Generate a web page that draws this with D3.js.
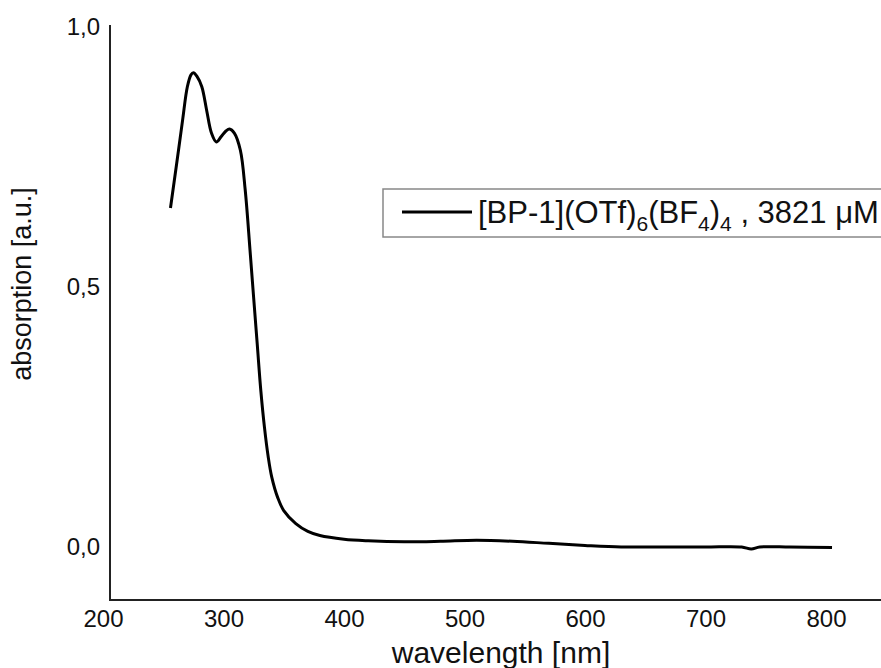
<!DOCTYPE html>
<html>
<head>
<meta charset="utf-8">
<script src="https://cdn.jsdelivr.net/npm/d3@7"></script>
<style>
  body { margin: 0; background: #fff; }
  text { font-family: "Liberation Sans", Arial, sans-serif; fill: #111; }
</style>
</head>
<body>
<script>
let width = 881
let height = 668

// spectrum
const wavelength = [256, 261, 266, 270, 273, 275, 278, 282, 286, 290, 294, 298, 302, 305, 309, 314, 318, 322, 325, 328, 331, 334, 337, 340, 345, 350, 360, 370, 380, 400, 420, 450, 480, 510, 540, 570, 600, 630, 660, 700, 730, 738, 745, 770, 805]
const absorption = [0.652, 0.735, 0.82, 0.885, 0.908, 0.912, 0.905, 0.885, 0.84, 0.796, 0.779, 0.789, 0.800, 0.804, 0.796, 0.763, 0.687, 0.571, 0.48, 0.39, 0.30, 0.23, 0.175, 0.135, 0.095, 0.07, 0.045, 0.03, 0.022, 0.015, 0.012, 0.01, 0.011, 0.013, 0.011, 0.007, 0.003, 0.0, 0.0, 0.0, 0.0, -0.004, 0.0, 0.0, -0.001]
const xTicks = [200, 300, 400, 500, 600, 700, 800]
const yTicks = [0, 0.5, 1.0]

const svg = d3.select("body")
    .append('svg')
    .attr('width', width)
    .attr('height', height)

const x = d3.scaleLinear().domain([200, 800]).range([103, 826])
const y = d3.scaleLinear().domain([0, 1]).range([547, 27])

const fmt = d => d3.format(".1f")(d).replace(".", ",")

// axes, no tick marks
const xAxis = svg.append('g')
    .attr('transform', 'translate(0,600)')
    .call(d3.axisBottom(x).tickValues(xTicks).tickSize(0).tickPadding(10).tickFormat(d3.format("d")))
xAxis.select('.domain').remove()
xAxis.selectAll('text').style('font-size', '24px').attr('fill', '#111')

const yAxis = svg.append('g')
    .attr('transform', 'translate(110,0)')
    .call(d3.axisLeft(y).tickValues(yTicks).tickSize(0).tickPadding(10).tickFormat(fmt))
yAxis.select('.domain').remove()
yAxis.selectAll('text').style('font-size', '24px').attr('fill', '#111')

svg.append('line')
    .attr('x1', 110).attr('x2', 110).attr('y1', 25).attr('y2', 601)
    .attr('stroke', '#222').attr('stroke-width', 2)
svg.append('line')
    .attr('x1', 109).attr('x2', width).attr('y1', 600).attr('y2', 600)
    .attr('stroke', '#222').attr('stroke-width', 2)

const data = wavelength.map((w, i) => ({w: w, a: absorption[i]}))

const line = d3.line()
    .x(d => x(d.w))
    .y(d => y(d.a))
    .curve(d3.curveCatmullRom.alpha(0.5))

svg.append('path')
    .datum(data)
    .attr('fill', 'none')
    .attr('stroke', '#000')
    .attr('stroke-width', 3)
    .attr('d', line)

// axis titles
svg.append('text')
    .attr('x', 501)
    .attr('y', 663)
    .attr('text-anchor', 'middle')
    .style('font-size', '30px')
    .text('wavelength [nm]')

svg.append('text')
    .attr('transform', 'translate(31,284) rotate(-90)')
    .attr('text-anchor', 'middle')
    .style('font-size', '27px')
    .text('absorption [a.u.]')

// legend
const leg = svg.append('g')
leg.append('rect')
    .attr('x', 383).attr('y', 189)
    .attr('width', 510).attr('height', 48)
    .attr('fill', '#fff')
    .attr('stroke', '#888')
    .attr('stroke-width', 1.5)
leg.append('line')
    .attr('x1', 402).attr('x2', 472).attr('y1', 212).attr('y2', 212)
    .attr('stroke', '#000').attr('stroke-width', 3)
const lt = leg.append('text')
    .attr('x', 478).attr('y', 223)
    .style('font-size', '31px')
lt.append('tspan').text('[BP-1](OTf)')
lt.append('tspan').attr('dy', 8).style('font-size', '21px').text('6')
lt.append('tspan').attr('dy', -8).text('(BF')
lt.append('tspan').attr('dy', 8).style('font-size', '21px').text('4')
lt.append('tspan').attr('dy', -8).text(')')
lt.append('tspan').attr('dy', 8).style('font-size', '21px').text('4')
lt.append('tspan').attr('dy', -8).text(' , 3821 \u03bcM')
</script>
</body>
</html>
